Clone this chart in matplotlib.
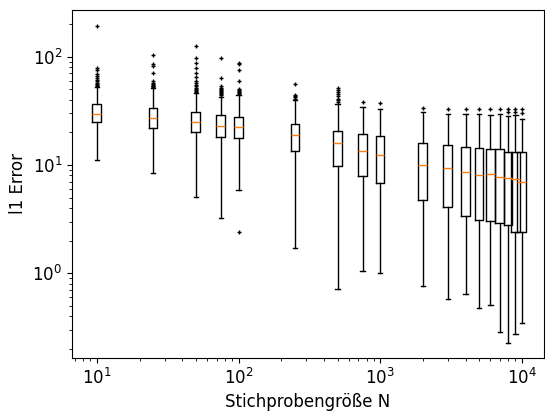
import matplotlib
matplotlib.use("Agg")
import matplotlib.pyplot as plt
import numpy as np

# Stichprobengrößen
sizes = [10, 25, 50, 75, 100, 250, 500, 750, 1000, 2000, 3000, 4000,
         5000, 6000, 7000, 8000, 9000, 10000]

# Box statistics
medians = [29.8, 27.2, 25.1, 23.1, 22.6, 19.0, 16.0, 13.5, 12.4, 10.0, 9.44,
           8.57, 8.09, 8.2, 7.75, 7.54, 7.48, 7.01]
q1 = [24.8, 22.1, 20.0, 18.2, 17.7, 13.5, 9.79, 7.91, 6.87, 4.75, 4.07,
      3.38, 3.11, 3.04, 2.93, 2.79, 2.42, 2.42]
q3 = [36.3, 33.8, 30.7, 28.9, 27.9, 23.9, 20.6, 19.2, 18.5, 15.9, 15.3,
      14.6, 14.45, 14.05, 13.97, 13.27, 13.27, 13.27]
whislo = [11.1, 8.44, 5.1, 3.24, 5.88, 1.72, 0.711, 1.05, 1.01, 0.763, 0.575,
          0.64, 0.475, 0.51, 0.289, 0.229, 0.273, 0.345]
whishi = [52.8, 51.4, 45.9, 42.7, 44.3, 39.8, 36.3, 34.5, 33.1, 31.1, 29.6,
          29.6, 29.6, 28.9, 29.6, 28.5, 28.9, 26.6]
fliers = [
    [192, 78, 75, 69, 66, 63, 61, 59, 57, 56, 55, 54],
    [104, 85, 82, 70, 59, 57, 56, 55, 54, 53, 52],
    [126, 97, 87, 79, 71, 65, 60, 57, 55, 53, 51, 50, 49, 48, 47.5],
    [97, 64, 53, 51, 50, 49, 48, 47, 46, 45, 44],
    [87, 85, 75, 60, 50, 49, 48, 47, 46, 45, 2.42],
    [55.6, 44.3, 43, 42, 41],
    [51.1, 49, 47.5, 45, 43.4, 41, 39.8, 38],
    [38.4],
    [37.6],
    [33.4],
    [32.9],
    [32.9],
    [32.9],
    [32.9],
    [32.9],
    [32.9, 30.7],
    [32.9, 30.7],
    [32.9, 30.0],
]

stats = []
for i in range(len(sizes)):
    stats.append({"med": medians[i], "q1": q1[i], "q3": q3[i],
                  "whislo": whislo[i], "whishi": whishi[i],
                  "fliers": fliers[i]})

fig = plt.figure(figsize=(5.45, 4.12), dpi=100)
ax = fig.add_axes([0.132, 0.131, 0.866, 0.845])

ax.bxp(stats, positions=sizes, widths=[0.14 * s for s in sizes],
       flierprops=dict(marker="+", markersize=3, markeredgecolor="black"))

ax.set_xscale("log")
ax.set_yscale("log")
ax.set_xlim(6.66, 14300)
ax.set_ylim(0.165, 270)
ax.set_xlabel("Stichprobengröße N", fontsize=12)
ax.set_ylabel("l1 Error", fontsize=12)
ax.tick_params(labelsize=12)

fig.savefig("out.png", dpi=100)
